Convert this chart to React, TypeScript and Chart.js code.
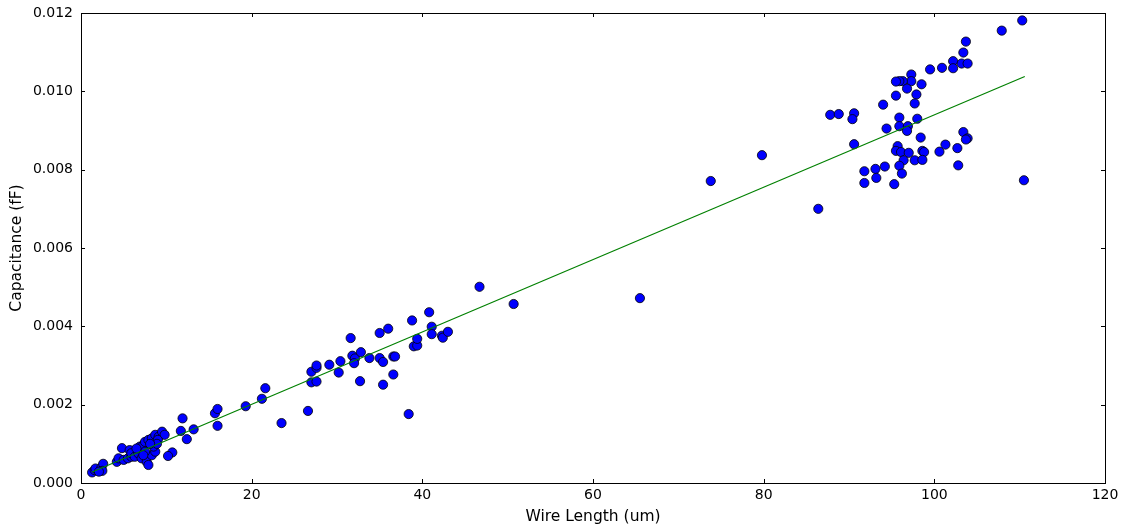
import React, { useEffect, useRef } from "react";
import { Chart, registerables } from "chart.js";

Chart.register(...registerables);

const wireLength: number[] = [
  1.3, 1.6, 1.7, 2.4, 2.6, 2.5, 2.1,
  4.2, 4.4, 4.8, 5.0, 5.5, 5.9, 5.7, 5.9, 6.3, 6.7, 6.9, 7.3, 7.5, 7.9, 8.3, 8.7, 9.1, 9.5, 9.8,
  7.1, 7.7, 7.9, 8.3, 8.7, 8.5, 7.5, 7.3, 10.7, 10.2, 9.0, 8.9, 8.1, 6.5,
  11.9, 11.7, 13.2, 12.4, 15.7, 16.0, 16.0,
  19.3, 21.2, 21.6, 23.5, 26.6,
  27.0, 27.6, 27.6, 27.0, 27.6, 29.1, 30.2, 30.4, 31.6, 31.8, 32.1, 32.0, 32.8, 32.7, 33.8, 35.0, 35.0,
  35.4, 35.4, 36.0, 36.6, 36.8, 36.6, 38.4, 38.8, 39.0, 39.4, 39.4, 40.8, 41.1, 41.1, 42.3, 42.4, 43.0,
  46.7, 50.7, 65.5, 73.8, 79.8, 86.4,
  110.3, 107.9, 103.7, 103.4, 102.2, 103.2, 103.9, 102.2, 100.9, 99.5, 97.3, 98.5, 97.3, 96.3, 95.9,
  95.5, 96.8, 97.9, 95.5, 97.7, 94.0, 87.8, 88.8, 90.6, 90.4, 95.9, 98.0, 95.9, 96.9, 96.8, 94.4,
  98.4, 90.6, 103.4, 103.9, 103.7, 95.7, 95.5, 96.1, 97.0, 98.6, 98.8, 100.6, 101.3, 102.7, 96.4,
  97.7, 98.6, 95.9, 96.2, 102.8, 91.8, 93.1, 94.2, 91.8, 93.2, 95.3, 110.5,
];

const capacitance: number[] = [
  0.00027, 0.00033, 0.00037, 0.0004, 0.00049, 0.00031, 0.00029,
  0.00054, 0.00063, 0.00089, 0.00059, 0.00063, 0.00067, 0.00084, 0.00076, 0.00067, 0.00076, 0.00093, 0.00097, 0.00105, 0.0011, 0.00114, 0.00123, 0.00118, 0.00131, 0.00123,
  0.00063, 0.00054, 0.00046, 0.00071, 0.0008, 0.00093, 0.0008, 0.00071, 0.00078, 0.00069, 0.0011, 0.001, 0.001, 0.00088,
  0.00165, 0.00133, 0.00137, 0.00112, 0.00178, 0.00189, 0.00146,
  0.00196, 0.00215, 0.00242, 0.00153, 0.00184,
  0.00284, 0.00294, 0.003, 0.00257, 0.00259, 0.00302, 0.00282, 0.00311, 0.0037, 0.00325, 0.00318, 0.00306, 0.00334, 0.0026, 0.00319, 0.00383, 0.00319,
  0.00309, 0.00251, 0.00394, 0.00323, 0.00323, 0.00277, 0.00176, 0.00415, 0.00349, 0.00351, 0.00368, 0.00436, 0.00399, 0.0038, 0.00376, 0.00371, 0.00386,
  0.00501, 0.00457, 0.00472, 0.00771, 0.00837, 0.007,
  0.01181, 0.01155, 0.01127, 0.01099, 0.01077, 0.01071, 0.01071, 0.01059, 0.0106, 0.01056, 0.01043, 0.01018, 0.01026, 0.01026, 0.01026,
  0.01025, 0.01007, 0.00992, 0.00989, 0.00969, 0.00966, 0.0094, 0.00942, 0.00944, 0.00929, 0.00933, 0.0093, 0.00911, 0.00911, 0.00899, 0.00905,
  0.00882, 0.00865, 0.00896, 0.0088, 0.00877, 0.0086, 0.00848, 0.00845, 0.00843, 0.00848, 0.00845, 0.00846, 0.00864, 0.00855, 0.00824,
  0.00824, 0.00825, 0.0081, 0.0079, 0.00811, 0.00796, 0.00802, 0.00808, 0.00766, 0.00779, 0.00763, 0.00773,
];

const fitX: number[] = [1.3, 110.6];
const fitY: number[] = [0.00028, 0.01038];

const xTicks: number[] = [0, 20, 40, 60, 80, 100, 120];
const yTicks: number[] = [0, 0.002, 0.004, 0.006, 0.008, 0.01, 0.012];

const FONT = "'DejaVu Sans', sans-serif";

const frameTicks = {
  id: "frameTicks",
  afterDraw(chart: any) {
    const { ctx, chartArea } = chart;
    const xs = chart.scales.x;
    const ys = chart.scales.y;
    const L = 4;
    ctx.save();
    ctx.strokeStyle = "#000";
    ctx.lineWidth = 1;
    ctx.beginPath();
    for (const v of xTicks) {
      const px = Math.round(xs.getPixelForValue(v)) + 0.5;
      ctx.moveTo(px, chartArea.bottom);
      ctx.lineTo(px, chartArea.bottom - L);
      ctx.moveTo(px, chartArea.top);
      ctx.lineTo(px, chartArea.top + L);
    }
    for (const v of yTicks) {
      const py = Math.round(ys.getPixelForValue(v)) + 0.5;
      ctx.moveTo(chartArea.left, py);
      ctx.lineTo(chartArea.left + L, py);
      ctx.moveTo(chartArea.right, py);
      ctx.lineTo(chartArea.right - L, py);
    }
    ctx.stroke();
    ctx.strokeRect(
      Math.round(chartArea.left) + 0.5,
      Math.round(chartArea.top) + 0.5,
      Math.round(chartArea.right - chartArea.left),
      Math.round(chartArea.bottom - chartArea.top)
    );
    ctx.restore();
  },
};

export default function App() {
  const ref = useRef<HTMLCanvasElement | null>(null);

  useEffect(() => {
    document.body.style.margin = "0";
    const canvas = ref.current;
    if (!canvas) return;
    const points = wireLength.map((x, i) => ({ x, y: capacitance[i] }));
    const line = fitX.map((x, i) => ({ x, y: fitY[i] }));
    const chart = new Chart(canvas, {
      type: "scatter",
      data: {
        datasets: [
          {
            type: "line",
            label: "fit",
            data: line,
            borderColor: "#008000",
            borderWidth: 1.2,
            pointRadius: 0,
            fill: false,
            order: 0,
          } as any,
          {
            label: "data",
            data: points,
            backgroundColor: "#0000ff",
            borderColor: "#000000",
            borderWidth: 0.8,
            pointRadius: 4.6,
            order: 1,
          },
        ],
      },
      plugins: [frameTicks],
      options: {
        animation: false,
        responsive: false,
        maintainAspectRatio: false,
        layout: { padding: { top: 13, right: 17, left: 0, bottom: 0 } },
        plugins: { legend: { display: false }, tooltip: { enabled: false } },
        scales: {
          x: {
            type: "linear",
            min: 0,
            max: 120,
            afterBuildTicks: (s: any) => {
              s.ticks = xTicks.map((v) => ({ value: v }));
            },
            afterFit: (s: any) => {
              s.height = 47;
              s.paddingLeft = 0;
              s.paddingRight = 0;
            },
            grid: { display: false, drawTicks: false },
            border: { display: false },
            ticks: {
              color: "#000",
              font: { family: FONT, size: 14 },
              padding: 4,
              maxRotation: 0,
              callback: (v: any) => String(v),
            },
            title: {
              display: true,
              text: "Wire Length (um)",
              color: "#000",
              font: { family: FONT, size: 15.5 },
              padding: { top: 2, bottom: 4 },
            },
          },
          y: {
            type: "linear",
            min: 0,
            max: 0.012,
            afterBuildTicks: (s: any) => {
              s.ticks = yTicks.map((v) => ({ value: v }));
            },
            afterFit: (s: any) => {
              s.width = 81;
              s.paddingTop = 0;
              s.paddingBottom = 0;
            },
            grid: { display: false, drawTicks: false },
            border: { display: false },
            ticks: {
              color: "#000",
              font: { family: FONT, size: 14 },
              padding: 8,
              callback: (v: any) => Number(v).toFixed(3),
            },
            title: {
              display: true,
              text: "Capacitance (fF)",
              color: "#000",
              font: { family: FONT, size: 15.5 },
              padding: { top: 8, bottom: 0 },
            },
          },
        },
      },
    });
    return () => chart.destroy();
  }, []);

  return (
    <div style={{ width: 1122, height: 530 }}>
      <canvas ref={ref} width={1122} height={530} style={{ display: "block" }} />
    </div>
  );
}
